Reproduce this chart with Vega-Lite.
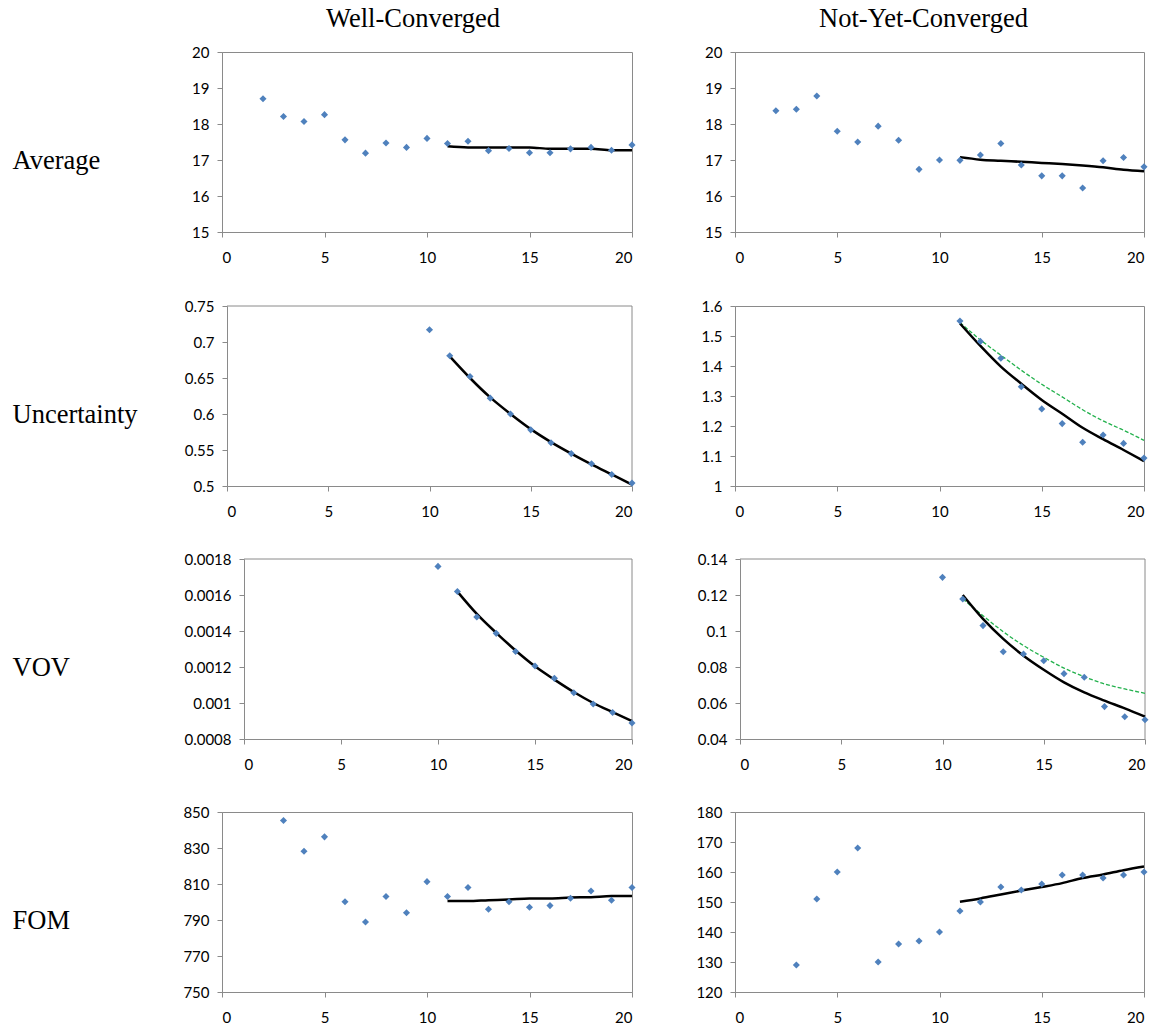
{
"$schema": "https://vega.github.io/schema/vega-lite/v6.json",
"padding": {"left": 11, "top": 5, "right": 0, "bottom": 0},
"background": "white",
"data": {"values": [
{"m":"A","c":"W","k":"o","x":2,"y":18.70},{"m":"A","c":"W","k":"o","x":3,"y":18.21},{"m":"A","c":"W","k":"o","x":4,"y":18.07},{"m":"A","c":"W","k":"o","x":5,"y":18.26},{"m":"A","c":"W","k":"o","x":6,"y":17.56},{"m":"A","c":"W","k":"o","x":7,"y":17.19},{"m":"A","c":"W","k":"o","x":8,"y":17.47},{"m":"A","c":"W","k":"o","x":9,"y":17.35},{"m":"A","c":"W","k":"o","x":10,"y":17.60},{"m":"A","c":"W","k":"o","x":11,"y":17.46},{"m":"A","c":"W","k":"o","x":12,"y":17.52},{"m":"A","c":"W","k":"o","x":13,"y":17.26},{"m":"A","c":"W","k":"o","x":14,"y":17.32},{"m":"A","c":"W","k":"o","x":15,"y":17.20},{"m":"A","c":"W","k":"o","x":16,"y":17.20},{"m":"A","c":"W","k":"o","x":17,"y":17.31},{"m":"A","c":"W","k":"o","x":18,"y":17.35},{"m":"A","c":"W","k":"o","x":19,"y":17.27},{"m":"A","c":"W","k":"o","x":20,"y":17.42},
{"m":"A","c":"W","k":"f","x":11,"y":17.38},{"m":"A","c":"W","k":"f","x":12,"y":17.35},{"m":"A","c":"W","k":"f","x":13,"y":17.35},{"m":"A","c":"W","k":"f","x":14,"y":17.35},{"m":"A","c":"W","k":"f","x":15,"y":17.35},{"m":"A","c":"W","k":"f","x":16,"y":17.31},{"m":"A","c":"W","k":"f","x":17,"y":17.31},{"m":"A","c":"W","k":"f","x":18,"y":17.31},{"m":"A","c":"W","k":"f","x":19,"y":17.27},{"m":"A","c":"W","k":"f","x":20,"y":17.27},
{"m":"A","c":"N","k":"o","x":2,"y":18.37},{"m":"A","c":"N","k":"o","x":3,"y":18.41},{"m":"A","c":"N","k":"o","x":4,"y":18.78},{"m":"A","c":"N","k":"o","x":5,"y":17.80},{"m":"A","c":"N","k":"o","x":6,"y":17.50},{"m":"A","c":"N","k":"o","x":7,"y":17.94},{"m":"A","c":"N","k":"o","x":8,"y":17.55},{"m":"A","c":"N","k":"o","x":9,"y":16.74},{"m":"A","c":"N","k":"o","x":10,"y":17.00},{"m":"A","c":"N","k":"o","x":11,"y":16.99},{"m":"A","c":"N","k":"o","x":12,"y":17.14},{"m":"A","c":"N","k":"o","x":13,"y":17.46},{"m":"A","c":"N","k":"o","x":14,"y":16.86},{"m":"A","c":"N","k":"o","x":15,"y":16.56},{"m":"A","c":"N","k":"o","x":16,"y":16.56},{"m":"A","c":"N","k":"o","x":17,"y":16.22},{"m":"A","c":"N","k":"o","x":18,"y":16.98},{"m":"A","c":"N","k":"o","x":19,"y":17.07},{"m":"A","c":"N","k":"o","x":20,"y":16.81},
{"m":"A","c":"N","k":"f","x":11,"y":17.08},{"m":"A","c":"N","k":"f","x":12,"y":17.01},{"m":"A","c":"N","k":"f","x":13,"y":16.98},{"m":"A","c":"N","k":"f","x":14,"y":16.95},{"m":"A","c":"N","k":"f","x":15,"y":16.92},{"m":"A","c":"N","k":"f","x":16,"y":16.89},{"m":"A","c":"N","k":"f","x":17,"y":16.85},{"m":"A","c":"N","k":"f","x":18,"y":16.80},{"m":"A","c":"N","k":"f","x":19,"y":16.73},{"m":"A","c":"N","k":"f","x":20,"y":16.69},
{"m":"U","c":"W","k":"o","x":10,"y":0.717},{"m":"U","c":"W","k":"o","x":11,"y":0.681},{"m":"U","c":"W","k":"o","x":12,"y":0.652},{"m":"U","c":"W","k":"o","x":13,"y":0.622},{"m":"U","c":"W","k":"o","x":14,"y":0.600},{"m":"U","c":"W","k":"o","x":15,"y":0.578},{"m":"U","c":"W","k":"o","x":16,"y":0.560},{"m":"U","c":"W","k":"o","x":17,"y":0.545},{"m":"U","c":"W","k":"o","x":18,"y":0.531},{"m":"U","c":"W","k":"o","x":19,"y":0.516},{"m":"U","c":"W","k":"o","x":20,"y":0.504},
{"m":"U","c":"W","k":"f","x":11,"y":0.680},{"m":"U","c":"W","k":"f","x":12,"y":0.650},{"m":"U","c":"W","k":"f","x":13,"y":0.623},{"m":"U","c":"W","k":"f","x":14,"y":0.600},{"m":"U","c":"W","k":"f","x":15,"y":0.579},{"m":"U","c":"W","k":"f","x":16,"y":0.561},{"m":"U","c":"W","k":"f","x":17,"y":0.545},{"m":"U","c":"W","k":"f","x":18,"y":0.530},{"m":"U","c":"W","k":"f","x":19,"y":0.516},{"m":"U","c":"W","k":"f","x":20,"y":0.502},
{"m":"U","c":"N","k":"o","x":11,"y":1.550},{"m":"U","c":"N","k":"o","x":12,"y":1.482},{"m":"U","c":"N","k":"o","x":13,"y":1.426},{"m":"U","c":"N","k":"o","x":14,"y":1.331},{"m":"U","c":"N","k":"o","x":15,"y":1.257},{"m":"U","c":"N","k":"o","x":16,"y":1.208},{"m":"U","c":"N","k":"o","x":17,"y":1.146},{"m":"U","c":"N","k":"o","x":18,"y":1.170},{"m":"U","c":"N","k":"o","x":19,"y":1.142},{"m":"U","c":"N","k":"o","x":20,"y":1.093},
{"m":"U","c":"N","k":"f","x":11,"y":1.542},{"m":"U","c":"N","k":"f","x":12,"y":1.467},{"m":"U","c":"N","k":"f","x":13,"y":1.398},{"m":"U","c":"N","k":"f","x":14,"y":1.341},{"m":"U","c":"N","k":"f","x":15,"y":1.287},{"m":"U","c":"N","k":"f","x":16,"y":1.241},{"m":"U","c":"N","k":"f","x":17,"y":1.194},{"m":"U","c":"N","k":"f","x":18,"y":1.156},{"m":"U","c":"N","k":"f","x":19,"y":1.120},{"m":"U","c":"N","k":"f","x":20,"y":1.083},
{"m":"U","c":"N","k":"g","x":11,"y":1.545},{"m":"U","c":"N","k":"g","x":12,"y":1.487},{"m":"U","c":"N","k":"g","x":13,"y":1.436},{"m":"U","c":"N","k":"g","x":14,"y":1.386},{"m":"U","c":"N","k":"g","x":15,"y":1.339},{"m":"U","c":"N","k":"g","x":16,"y":1.297},{"m":"U","c":"N","k":"g","x":17,"y":1.254},{"m":"U","c":"N","k":"g","x":18,"y":1.217},{"m":"U","c":"N","k":"g","x":19,"y":1.186},{"m":"U","c":"N","k":"g","x":20,"y":1.152},
{"m":"V","c":"W","k":"o","x":10,"y":0.001759},{"m":"V","c":"W","k":"o","x":11,"y":0.001619},{"m":"V","c":"W","k":"o","x":12,"y":0.001478},{"m":"V","c":"W","k":"o","x":13,"y":0.001387},{"m":"V","c":"W","k":"o","x":14,"y":0.001286},{"m":"V","c":"W","k":"o","x":15,"y":0.001206},{"m":"V","c":"W","k":"o","x":16,"y":0.001137},{"m":"V","c":"W","k":"o","x":17,"y":0.001057},{"m":"V","c":"W","k":"o","x":18,"y":0.000994},{"m":"V","c":"W","k":"o","x":19,"y":0.000947},{"m":"V","c":"W","k":"o","x":20,"y":0.000889},
{"m":"V","c":"W","k":"f","x":11,"y":0.001619},{"m":"V","c":"W","k":"f","x":12,"y":0.001495},{"m":"V","c":"W","k":"f","x":13,"y":0.001390},{"m":"V","c":"W","k":"f","x":14,"y":0.001292},{"m":"V","c":"W","k":"f","x":15,"y":0.001204},{"m":"V","c":"W","k":"f","x":16,"y":0.001130},{"m":"V","c":"W","k":"f","x":17,"y":0.001061},{"m":"V","c":"W","k":"f","x":18,"y":0.001000},{"m":"V","c":"W","k":"f","x":19,"y":0.000949},{"m":"V","c":"W","k":"f","x":20,"y":0.000900},
{"m":"V","c":"N","k":"o","x":10,"y":0.1298},{"m":"V","c":"N","k":"o","x":11,"y":0.1178},{"m":"V","c":"N","k":"o","x":12,"y":0.1030},{"m":"V","c":"N","k":"o","x":13,"y":0.0885},{"m":"V","c":"N","k":"o","x":14,"y":0.0872},{"m":"V","c":"N","k":"o","x":15,"y":0.0835},{"m":"V","c":"N","k":"o","x":16,"y":0.0763},{"m":"V","c":"N","k":"o","x":17,"y":0.0743},{"m":"V","c":"N","k":"o","x":18,"y":0.0580},{"m":"V","c":"N","k":"o","x":19,"y":0.0524},{"m":"V","c":"N","k":"o","x":20,"y":0.0507},
{"m":"V","c":"N","k":"f","x":11,"y":0.1200},{"m":"V","c":"N","k":"f","x":12,"y":0.1067},{"m":"V","c":"N","k":"f","x":13,"y":0.0956},{"m":"V","c":"N","k":"f","x":14,"y":0.0863},{"m":"V","c":"N","k":"f","x":15,"y":0.0785},{"m":"V","c":"N","k":"f","x":16,"y":0.0715},{"m":"V","c":"N","k":"f","x":17,"y":0.0659},{"m":"V","c":"N","k":"f","x":18,"y":0.0613},{"m":"V","c":"N","k":"f","x":19,"y":0.0570},{"m":"V","c":"N","k":"f","x":20,"y":0.0524},
{"m":"V","c":"N","k":"g","x":11,"y":0.1178},{"m":"V","c":"N","k":"g","x":12,"y":0.1085},{"m":"V","c":"N","k":"g","x":13,"y":0.0996},{"m":"V","c":"N","k":"g","x":14,"y":0.0919},{"m":"V","c":"N","k":"g","x":15,"y":0.0854},{"m":"V","c":"N","k":"g","x":16,"y":0.0794},{"m":"V","c":"N","k":"g","x":17,"y":0.0746},{"m":"V","c":"N","k":"g","x":18,"y":0.0706},{"m":"V","c":"N","k":"g","x":19,"y":0.0678},{"m":"V","c":"N","k":"g","x":20,"y":0.0654},
{"m":"F","c":"W","k":"o","x":3,"y":845.3},{"m":"F","c":"W","k":"o","x":4,"y":828.2},{"m":"F","c":"W","k":"o","x":5,"y":836.2},{"m":"F","c":"W","k":"o","x":6,"y":800.1},{"m":"F","c":"W","k":"o","x":7,"y":788.9},{"m":"F","c":"W","k":"o","x":8,"y":803.1},{"m":"F","c":"W","k":"o","x":9,"y":794.0},{"m":"F","c":"W","k":"o","x":10,"y":811.3},{"m":"F","c":"W","k":"o","x":11,"y":803.1},{"m":"F","c":"W","k":"o","x":12,"y":808.1},{"m":"F","c":"W","k":"o","x":13,"y":796.0},{"m":"F","c":"W","k":"o","x":14,"y":800.1},{"m":"F","c":"W","k":"o","x":15,"y":797.1},{"m":"F","c":"W","k":"o","x":16,"y":798.0},{"m":"F","c":"W","k":"o","x":17,"y":802.1},{"m":"F","c":"W","k":"o","x":18,"y":806.1},{"m":"F","c":"W","k":"o","x":19,"y":801.0},{"m":"F","c":"W","k":"o","x":20,"y":808.1},
{"m":"F","c":"W","k":"f","x":11,"y":800.5},{"m":"F","c":"W","k":"f","x":12,"y":800.5},{"m":"F","c":"W","k":"f","x":13,"y":801.0},{"m":"F","c":"W","k":"f","x":14,"y":801.4},{"m":"F","c":"W","k":"f","x":15,"y":802.0},{"m":"F","c":"W","k":"f","x":16,"y":802.0},{"m":"F","c":"W","k":"f","x":17,"y":802.5},{"m":"F","c":"W","k":"f","x":18,"y":802.7},{"m":"F","c":"W","k":"f","x":19,"y":803.3},{"m":"F","c":"W","k":"f","x":20,"y":803.3},
{"m":"F","c":"N","k":"o","x":3,"y":129},{"m":"F","c":"N","k":"o","x":4,"y":151},{"m":"F","c":"N","k":"o","x":5,"y":160},{"m":"F","c":"N","k":"o","x":6,"y":168},{"m":"F","c":"N","k":"o","x":7,"y":130},{"m":"F","c":"N","k":"o","x":8,"y":136},{"m":"F","c":"N","k":"o","x":9,"y":137},{"m":"F","c":"N","k":"o","x":10,"y":140},{"m":"F","c":"N","k":"o","x":11,"y":147},{"m":"F","c":"N","k":"o","x":12,"y":150},{"m":"F","c":"N","k":"o","x":13,"y":155},{"m":"F","c":"N","k":"o","x":14,"y":154},{"m":"F","c":"N","k":"o","x":15,"y":156},{"m":"F","c":"N","k":"o","x":16,"y":159},{"m":"F","c":"N","k":"o","x":17,"y":159},{"m":"F","c":"N","k":"o","x":18,"y":158},{"m":"F","c":"N","k":"o","x":19,"y":159},{"m":"F","c":"N","k":"o","x":20,"y":160},
{"m":"F","c":"N","k":"f","x":11,"y":150.1},{"m":"F","c":"N","k":"f","x":12,"y":151.2},{"m":"F","c":"N","k":"f","x":13,"y":152.5},{"m":"F","c":"N","k":"f","x":14,"y":153.8},{"m":"F","c":"N","k":"f","x":15,"y":155.0},{"m":"F","c":"N","k":"f","x":16,"y":156.3},{"m":"F","c":"N","k":"f","x":17,"y":158.0},{"m":"F","c":"N","k":"f","x":18,"y":159.2},{"m":"F","c":"N","k":"f","x":19,"y":160.6},{"m":"F","c":"N","k":"f","x":20,"y":161.8}
]},
"columns": 2,
"align": {"row": "each", "column": "all"},
"spacing": {"row": 32, "column": 41},
"concat": [
 {"width": 410, "height": 180,
  "title": {"text": "Well-Converged", "frame": "group", "anchor": "middle", "dx": -14, "offset": -8, "baseline": "alphabetic"},
  "transform": [{"filter": "datum.m==='A' && datum.c==='W'"}],
  "encoding": {
   "x": {"field": "x", "type": "quantitative", "scale": {"domain": [0, 20], "nice": false, "zero": false}, "axis": {"values": [0, 5, 10, 15, 20], "title": null}},
   "y": {"field": "y", "type": "quantitative", "scale": {"domain": [15, 20], "nice": false, "zero": false}, "axis": {"values": [15, 16, 17, 18, 19, 20], "format": ".4~f", "title": "Average", "titleAngle": 0, "titleAlign": "left", "titleBaseline": "middle", "titleX": -210, "titleY": 108}}
  },
  "layer": [
   {"transform": [{"filter": "datum.k==='f'"}], "mark": {"type": "line", "color": "#000", "strokeWidth": 2.5, "interpolate": "monotone"}},
   {"transform": [{"filter": "datum.k==='o'"}], "mark": {"type": "point", "shape": "diamond", "filled": true, "color": "#4F81BD", "size": 50, "opacity": 1}}
  ]},
 {"width": 409, "height": 180,
  "title": {"text": "Not-Yet-Converged", "frame": "group", "anchor": "middle", "dx": -16, "offset": -8, "baseline": "alphabetic"},
  "transform": [{"filter": "datum.m==='A' && datum.c==='N'"}],
  "encoding": {
   "x": {"field": "x", "type": "quantitative", "scale": {"domain": [0, 20], "nice": false, "zero": false}, "axis": {"values": [0, 5, 10, 15, 20], "title": null}},
   "y": {"field": "y", "type": "quantitative", "scale": {"domain": [15, 20], "nice": false, "zero": false}, "axis": {"values": [15, 16, 17, 18, 19, 20], "format": ".4~f", "title": null, "minExtent": 55}}
  },
  "layer": [
   {"transform": [{"filter": "datum.k==='f'"}], "mark": {"type": "line", "color": "#000", "strokeWidth": 2.5, "interpolate": "monotone"}},
   {"transform": [{"filter": "datum.k==='o'"}], "mark": {"type": "point", "shape": "diamond", "filled": true, "color": "#4F81BD", "size": 50, "opacity": 1}}
  ]},
 {"width": 410, "height": 180,
  "view": {"stroke": null},
  "transform": [{"filter": "datum.m==='U' && datum.c==='W'"}],
  "encoding": {
   "x": {"field": "x", "type": "quantitative", "scale": {"domain": [0, 20], "nice": false, "zero": false, "range": [5, 410]}, "axis": {"values": [0, 5, 10, 15, 20], "title": null}},
   "y": {"field": "y", "type": "quantitative", "scale": {"domain": [0.5, 0.75], "nice": false, "zero": false}, "axis": {"values": [0.5, 0.55, 0.6, 0.65, 0.7, 0.75], "format": ".4~f", "offset": -5, "title": "Uncertainty", "titleAngle": 0, "titleAlign": "left", "titleBaseline": "middle", "titleX": -215, "titleY": 108}}
  },
  "layer": [
   {"transform": [{"filter": "datum.k==='o' && datum.x===20"}], "mark": {"type": "rule", "color": "#8a8a8a", "strokeWidth": 1}, "encoding": {"x": {"datum": 0}, "x2": {"datum": 20}, "y": {"datum": 0.75}}},
   {"transform": [{"filter": "datum.k==='o' && datum.x===20"}], "mark": {"type": "rule", "color": "#8a8a8a", "strokeWidth": 1}, "encoding": {"x": {"datum": 20}, "y": {"datum": 0.5}, "y2": {"datum": 0.75}}},
   {"transform": [{"filter": "datum.k==='f'"}], "mark": {"type": "line", "color": "#000", "strokeWidth": 2.5, "interpolate": "monotone"}},
   {"transform": [{"filter": "datum.k==='o'"}], "mark": {"type": "point", "shape": "diamond", "filled": true, "color": "#4F81BD", "size": 50, "opacity": 1}}
  ]},
 {"width": 409, "height": 180,
  "transform": [{"filter": "datum.m==='U' && datum.c==='N'"}],
  "encoding": {
   "x": {"field": "x", "type": "quantitative", "scale": {"domain": [0, 20], "nice": false, "zero": false}, "axis": {"values": [0, 5, 10, 15, 20], "title": null}},
   "y": {"field": "y", "type": "quantitative", "scale": {"domain": [1, 1.6], "nice": false, "zero": false}, "axis": {"values": [1, 1.1, 1.2, 1.3, 1.4, 1.5, 1.6], "format": ".4~f", "title": null, "minExtent": 55}}
  },
  "layer": [
   {"transform": [{"filter": "datum.k==='g'"}], "mark": {"type": "line", "color": "#22B14C", "strokeWidth": 1.3, "strokeDash": [4, 2], "interpolate": "monotone"}},
   {"transform": [{"filter": "datum.k==='f'"}], "mark": {"type": "line", "color": "#000", "strokeWidth": 2.5, "interpolate": "monotone"}},
   {"transform": [{"filter": "datum.k==='o'"}], "mark": {"type": "point", "shape": "diamond", "filled": true, "color": "#4F81BD", "size": 50, "opacity": 1}}
  ]},
 {"width": 410, "height": 180,
  "view": {"stroke": null},
  "transform": [{"filter": "datum.m==='V' && datum.c==='W'"}],
  "encoding": {
   "x": {"field": "x", "type": "quantitative", "scale": {"domain": [0, 20], "nice": false, "zero": false, "range": [22, 410]}, "axis": {"values": [0, 5, 10, 15, 20], "title": null}},
   "y": {"field": "y", "type": "quantitative", "scale": {"domain": [0.0008, 0.0018], "nice": false, "zero": false}, "axis": {"values": [0.0008, 0.001, 0.0012, 0.0014, 0.0016, 0.0018], "format": ".4~f", "offset": -22, "title": "VOV", "titleAngle": 0, "titleAlign": "left", "titleBaseline": "middle", "titleX": -232, "titleY": 108}}
  },
  "layer": [
   {"transform": [{"filter": "datum.k==='o' && datum.x===20"}], "mark": {"type": "rule", "color": "#8a8a8a", "strokeWidth": 1}, "encoding": {"x": {"datum": 0}, "x2": {"datum": 20}, "y": {"datum": 0.0018}}},
   {"transform": [{"filter": "datum.k==='o' && datum.x===20"}], "mark": {"type": "rule", "color": "#8a8a8a", "strokeWidth": 1}, "encoding": {"x": {"datum": 20}, "y": {"datum": 0.0008}, "y2": {"datum": 0.0018}}},
   {"transform": [{"filter": "datum.k==='f'"}], "mark": {"type": "line", "color": "#000", "strokeWidth": 2.5, "interpolate": "monotone"}},
   {"transform": [{"filter": "datum.k==='o'"}], "mark": {"type": "point", "shape": "diamond", "filled": true, "color": "#4F81BD", "size": 50, "opacity": 1}}
  ]},
 {"width": 410, "height": 180,
  "view": {"stroke": null},
  "transform": [{"filter": "datum.m==='V' && datum.c==='N'"}],
  "encoding": {
   "x": {"field": "x", "type": "quantitative", "scale": {"domain": [0, 20], "nice": false, "zero": false, "range": [5, 410]}, "axis": {"values": [0, 5, 10, 15, 20], "title": null}},
   "y": {"field": "y", "type": "quantitative", "scale": {"domain": [0.04, 0.14], "nice": false, "zero": false}, "axis": {"values": [0.04, 0.06, 0.08, 0.1, 0.12, 0.14], "format": ".4~f", "title": null, "offset": -5, "minExtent": 50}}
  },
  "layer": [
   {"transform": [{"filter": "datum.k==='o' && datum.x===20"}], "mark": {"type": "rule", "color": "#8a8a8a", "strokeWidth": 1}, "encoding": {"x": {"datum": 0}, "x2": {"datum": 20}, "y": {"datum": 0.14}}},
   {"transform": [{"filter": "datum.k==='o' && datum.x===20"}], "mark": {"type": "rule", "color": "#8a8a8a", "strokeWidth": 1}, "encoding": {"x": {"datum": 20}, "y": {"datum": 0.04}, "y2": {"datum": 0.14}}},
   {"transform": [{"filter": "datum.k==='g'"}], "mark": {"type": "line", "color": "#22B14C", "strokeWidth": 1.3, "strokeDash": [4, 2], "interpolate": "monotone"}},
   {"transform": [{"filter": "datum.k==='f'"}], "mark": {"type": "line", "color": "#000", "strokeWidth": 2.5, "interpolate": "monotone"}},
   {"transform": [{"filter": "datum.k==='o'"}], "mark": {"type": "point", "shape": "diamond", "filled": true, "color": "#4F81BD", "size": 50, "opacity": 1}}
  ]},
 {"width": 410, "height": 180,
  "transform": [{"filter": "datum.m==='F' && datum.c==='W'"}],
  "encoding": {
   "x": {"field": "x", "type": "quantitative", "scale": {"domain": [0, 20], "nice": false, "zero": false}, "axis": {"values": [0, 5, 10, 15, 20], "title": null}},
   "y": {"field": "y", "type": "quantitative", "scale": {"domain": [750, 850], "nice": false, "zero": false}, "axis": {"values": [750, 770, 790, 810, 830, 850], "format": ".4~f", "title": "FOM", "titleAngle": 0, "titleAlign": "left", "titleBaseline": "middle", "titleX": -210, "titleY": 108}}
  },
  "layer": [
   {"transform": [{"filter": "datum.k==='f'"}], "mark": {"type": "line", "color": "#000", "strokeWidth": 2.5, "interpolate": "monotone"}},
   {"transform": [{"filter": "datum.k==='o'"}], "mark": {"type": "point", "shape": "diamond", "filled": true, "color": "#4F81BD", "size": 50, "opacity": 1}}
  ]},
 {"width": 409, "height": 180,
  "transform": [{"filter": "datum.m==='F' && datum.c==='N'"}],
  "encoding": {
   "x": {"field": "x", "type": "quantitative", "scale": {"domain": [0, 20], "nice": false, "zero": false}, "axis": {"values": [0, 5, 10, 15, 20], "title": null}},
   "y": {"field": "y", "type": "quantitative", "scale": {"domain": [120, 180], "nice": false, "zero": false}, "axis": {"values": [120, 130, 140, 150, 160, 170, 180], "format": ".4~f", "title": null, "minExtent": 55}}
  },
  "layer": [
   {"transform": [{"filter": "datum.k==='f'"}], "mark": {"type": "line", "color": "#000", "strokeWidth": 2.5, "interpolate": "monotone"}},
   {"transform": [{"filter": "datum.k==='o'"}], "mark": {"type": "point", "shape": "diamond", "filled": true, "color": "#4F81BD", "size": 50, "opacity": 1}}
  ]}
],
"config": {
 "view": {"stroke": "#8a8a8a", "strokeWidth": 1},
 "axis": {"grid": false, "domainColor": "#8a8a8a", "tickColor": "#8a8a8a", "tickSize": 5, "labelFont": "Lato", "labelFontSize": 15, "labelColor": "#000", "domainWidth": 1, "tickWidth": 1, "titleFont": "Liberation Serif", "titleFontSize": 26.5, "titleFontWeight": "normal", "titleColor": "#000"},
 "axisX": {"labelPadding": 13},
 "axisY": {"labelPadding": 8},
 "title": {"font": "Liberation Serif", "fontSize": 26.5, "fontWeight": "normal", "color": "#000"}
}
}
